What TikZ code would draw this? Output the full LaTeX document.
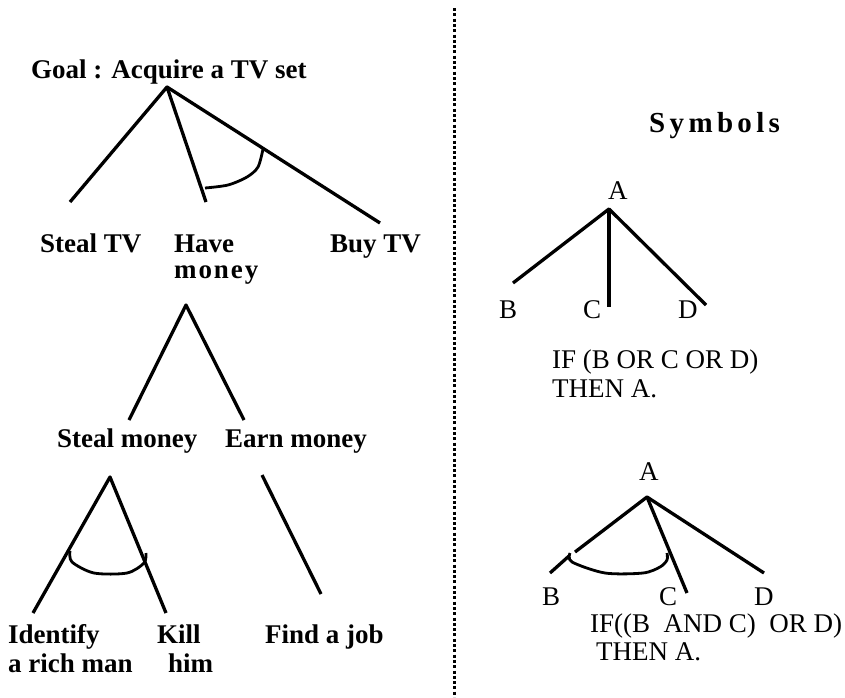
\documentclass[tikz,border=0pt]{standalone}
\usepackage{fontspec}
\setmainfont{Liberation Serif}
\newfontfamily\lsp[LetterSpace=7]{Liberation Serif}
\newfontfamily\lspb[LetterSpace=15]{Liberation Serif}
\begin{document}
\begin{tikzpicture}[x=1pt,y=-1pt,
  lbl/.style={anchor=base west, inner sep=0pt, font=\fontsize{27}{30}\selectfont\bfseries},
  sym/.style={anchor=base west, inner sep=0pt, font=\fontsize{27}{30}\selectfont},
  link/.style={line width=3.3pt, line join=round},
  andarc/.style={line width=2.8pt, line join=round},
  sep/.style={line width=3pt, dash pattern=on 3pt off 2.3pt}]
\useasboundingbox (0,0) rectangle (845,697);

% separator
\coordinate (sepTop) at (454,8);
\coordinate (sepBot) at (454,697);
\draw[sep] (sepTop) -- (sepBot);

% ---------- left: goal tree ----------
\node[lbl] (goal) at (31,78) {Goal : Acquire a TV set};
\coordinate (g) at (167,87);
\coordinate (g1) at (70,202);
\coordinate (g2) at (206,202);
\coordinate (g3) at (380,223);
\draw[link] (g1) -- (g) -- (g2);
\draw[link] (g) -- (g3);
\draw[andarc] plot[smooth] coordinates {(205,188) (228,185) (247,177) (258,167) (263,149)};

\node[lbl] (stealtv) at (40,252) {Steal TV};
\node[lbl] (have) at (174,252) {Have};
\node[lbl] (money) at (174,278) {\lsp money};
\node[lbl] (buytv) at (330,252) {Buy TV};

\coordinate (h) at (186,305);
\coordinate (h1) at (129,420);
\coordinate (h2) at (244,420);
\draw[link] (h1) -- (h) -- (h2);

\node[lbl] (stealm) at (57,447) {Steal money};
\node[lbl] (earnm) at (225,447) {Earn money};

\coordinate (s) at (110,477);
\coordinate (s1) at (33,613);
\coordinate (s2) at (166,613);
\draw[link] (s1) -- (s) -- (s2);
\draw[andarc] plot[smooth] coordinates {(70,551) (72,562) (94,573) (127,573) (144,563) (146,553)};

\coordinate (e) at (262,475);
\coordinate (e1) at (321,594);
\draw[link] (e) -- (e1);

\node[lbl] (ident) at (8,643) {Identify};
\node[lbl] (rich) at (8,672) {a rich man};
\node[lbl] (kill) at (157,643) {Kill};
\node[lbl] (him) at (168,672) {him};
\node[lbl] (job) at (265,643) {Find a job};

% ---------- right: symbols ----------
\node[lbl, font=\fontsize{29}{32}\selectfont\bfseries] (symbols) at (649,132) {\lspb Symbols};

\node[sym] (a1) at (608,199) {A};
\coordinate (p) at (609,209);
\coordinate (pb) at (513,283);
\coordinate (pc) at (609,307);
\coordinate (pd) at (706,305);
\draw[link] (pb) -- (p) -- (pd);
\draw[link] (p) -- (pc);
\node[sym] (b1) at (499,318) {B};
\node[sym] (c1) at (583,318) {C};
\node[sym] (d1) at (678,318) {D};
\node[sym] (or1) at (552,368) {IF (B OR C OR D)};
\node[sym] (then1) at (552,397) {THEN A.};

\node[sym] (a2) at (639,480) {A};
\coordinate (q) at (647,497);
\coordinate (qb) at (575,552);
\coordinate (qbt) at (569,556);
\coordinate (qbe) at (550,573);
\coordinate (qc) at (687,593);
\coordinate (qd) at (764,573);
\draw[link] (qb) -- (q) -- (qd);
\draw[link] (q) -- (qc);
\draw[link] (qbt) -- (qbe);
\draw[andarc] plot[smooth] coordinates {(570,553) (572,562) (605,573) (643,573) (660,567) (667,560) (667,553)};
\node[sym] (b2) at (542,605) {B};
\node[sym] (c2) at (659,605) {C};
\node[sym] (d2) at (754,605) {D};
\node[sym] (and2) at (590,632) {IF((B\ \ AND C)\ \ OR D)};
\node[sym] (then2) at (596,660) {THEN A.};
\end{tikzpicture}
\end{document}
